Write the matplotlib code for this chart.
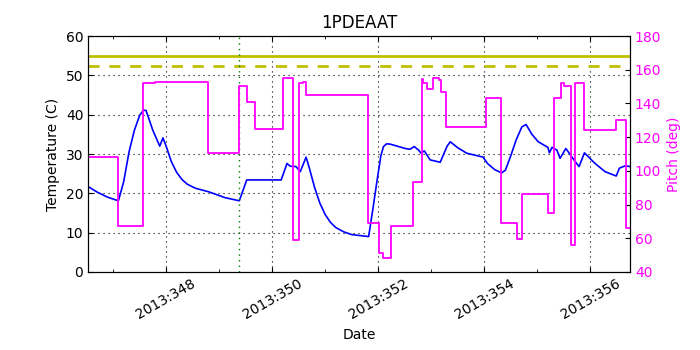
import matplotlib
matplotlib.use('Agg')
import matplotlib.pyplot as plt
from matplotlib.ticker import MultipleLocator, FuncFormatter

# day of year 2013 (fractional)
temp_days = [346.53, 346.7, 346.9, 347.10, 347.2, 347.3, 347.4, 347.5, 347.57, 347.62,
             347.75, 347.88, 347.94, 348.0, 348.1, 348.2, 348.3, 348.4, 348.55, 348.80,
             349.11, 349.38, 349.52, 350.17, 350.28, 350.34, 350.45, 350.53, 350.64, 350.7,
             350.8, 350.9, 351.0, 351.1, 351.2, 351.35, 351.5, 351.82, 351.9, 351.98,
             352.05, 352.10, 352.16, 352.23, 352.51, 352.60, 352.68, 352.76, 352.81, 352.87,
             352.98, 353.17, 353.3, 353.36, 353.5, 353.67, 353.98, 354.06, 354.2, 354.33,
             354.40, 354.5, 354.6, 354.71, 354.79, 354.9, 355.02, 355.20, 355.23, 355.28,
             355.37, 355.43, 355.54, 355.72, 355.79, 355.89, 356.09, 356.28, 356.49, 356.55,
             356.66, 356.75]
temp_vals = [21.7, 20.3, 19.0, 18.1, 23.0, 30.5, 36.0, 39.8, 41.1, 41.1,
             36.0, 32.0, 34.1, 32.0, 28.0, 25.3, 23.5, 22.3, 21.3, 20.4,
             18.9, 18.1, 23.4, 23.4, 27.6, 26.9, 26.8, 25.5, 29.2, 26.5,
             21.5, 17.5, 14.6, 12.6, 11.3, 10.2, 9.5, 9.0, 16.0, 23.4,
             29.5, 31.9, 32.6, 32.5, 31.4, 31.2, 31.9, 31.0, 30.2, 30.8,
             28.5, 27.9, 32.0, 33.1, 31.6, 30.2, 29.2, 27.6, 26.0, 25.2,
             25.9, 29.5, 33.5, 36.9, 37.5, 35.0, 33.1, 31.7, 30.3, 31.7,
             31.0, 28.9, 31.4, 28.0, 26.8, 30.3, 27.6, 25.5, 24.4, 26.4,
             27.0, 26.8]

pitch_days = [346.53, 347.09, 347.56, 347.79, 348.79, 349.38, 349.52, 349.67, 350.20, 350.40,
              350.50, 350.59, 350.64, 351.81, 352.01, 352.09, 352.24, 352.65, 352.82, 352.85,
              352.92, 353.04, 353.14, 353.19, 353.28, 354.03, 354.32, 354.62, 354.72, 355.21,
              355.32, 355.45, 355.50, 355.63, 355.72, 355.79, 355.88, 356.49, 356.67, 356.75]
pitch_vals = [108.5, 67.5, 152.3, 152.8, 110.8, 150.3, 140.6, 124.6, 154.9, 59.0,
              152.0, 152.5, 145.0, 69.2, 51.5, 48.5, 67.5, 93.4, 154.3, 152.3,
              148.4, 154.9, 153.9, 146.8, 126.0, 143.0, 68.9, 59.4, 86.3, 75.2,
              143.0, 152.0, 150.5, 56.0, 152.3, 152.0, 124.2, 130.2, 65.9, 65.9]

planning_limit = 55.0
caution_limit = 52.5
now_day = 349.38

fig = plt.figure(figsize=(7, 3.5), dpi=100)
ax = fig.add_axes([0.126, 0.223, 0.774, 0.674])

ax.plot(temp_days, temp_vals, color='#0000ff', linewidth=1.2)
ax.axhline(planning_limit, color='#bfbf00', linewidth=2)
ax.axhline(caution_limit, color='#bfbf00', linewidth=2, linestyle='--', dashes=(4, 3.5))
ax.axvline(now_day, color='green', linestyle=(0, (1, 3)), linewidth=1)

ax.set_xlim(346.53, 356.75)
ax.set_ylim(0, 60)
ax.set_title('1PDEAAT', fontsize=12)
ax.set_xlabel('Date', fontsize=10)
ax.set_ylabel('Temperature (C)', fontsize=10)
ax.xaxis.set_major_locator(MultipleLocator(2))
ax.xaxis.set_minor_locator(MultipleLocator(1))
ax.xaxis.set_major_formatter(FuncFormatter(lambda d, p: '2013:%d' % round(d)))
ax.yaxis.set_major_locator(MultipleLocator(10))
ax.grid(True, which='major', color='black', linestyle=(0, (1, 3.5)), linewidth=0.8)
ax.tick_params(direction='in', top=True, labelsize=10)
ax.tick_params(which='minor', direction='in', top=True)
for lbl in ax.get_xticklabels():
    lbl.set_rotation(30)
    lbl.set_ha('center')

ax2 = ax.twinx()
ax2.step(pitch_days, pitch_vals, where='post', color='#ff00ff', linewidth=1.3)
ax2.set_ylim(40, 180)
ax2.yaxis.set_major_locator(MultipleLocator(20))
ax2.set_ylabel('Pitch (deg)', color='#ff00ff', fontsize=10)
ax2.tick_params(direction='in', labelcolor='#ff00ff', labelsize=10)
ax2.set_xlim(346.53, 356.75)

plt.savefig('out.png', dpi=100)
